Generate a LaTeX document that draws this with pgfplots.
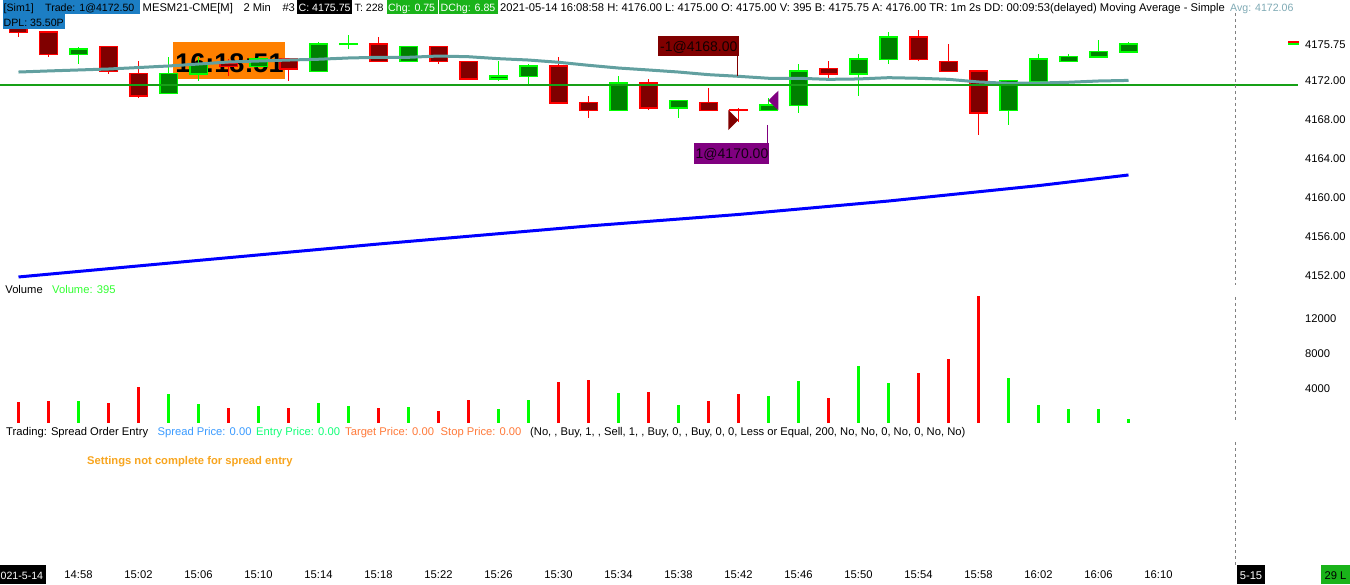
\documentclass[border=0pt]{standalone}
\usepackage{pgfplots}
\pgfplotsset{compat=1.18}
\usepackage{pgfplotstable}
\usepackage{fontspec}
\setmainfont{Liberation Sans}
\definecolor{simblue}{HTML}{1C7EC4}
\definecolor{chggreen}{HTML}{1AB31A}
\definecolor{avgcol}{HTML}{7FAAB5}
\definecolor{upfill}{HTML}{008000}
\definecolor{upline}{HTML}{00FF00}
\definecolor{dnfill}{HTML}{800000}
\definecolor{dnline}{HTML}{FF0000}
\definecolor{mateal}{HTML}{62A0A0}
\definecolor{orangebox}{HTML}{FF8000}
\definecolor{purp}{HTML}{800080}
\definecolor{spreadblue}{HTML}{3A9BFF}
\definecolor{entrygreen}{HTML}{11FF77}
\definecolor{coral}{HTML}{FF7A3A}
\definecolor{settings}{HTML}{F8A51E}
\definecolor{vollime}{HTML}{33FF33}
\definecolor{lastgreen}{HTML}{16A016}

\pgfplotstableread{
m o h l c
54 4178.0 4178.25 4176.5 4177.0
56 4177.0 4177.0 4174.5 4174.75
60 4175.5 4175.5 4172.75 4173.0
62 4172.75 4174.0 4170.25 4170.5
68 4173.75 4174.25 4172.5 4173.5
72 4174.25 4174.25 4172.0 4173.25
78 4175.75 4176.5 4174.0 4174.0
82 4175.5 4175.5 4173.75 4174.0
84 4174.0 4174.0 4172.25 4172.25
90 4173.5 4174.5 4169.75 4169.75
92 4169.75 4170.5 4168.25 4169.0
96 4171.75 4172.25 4169.0 4169.25
100 4169.75 4171.25 4169.0 4169.0
102 4169.0 4169.25 4167.75 4169.0
108 4173.25 4174.0 4172.25 4172.75
114 4176.5 4177.25 4174.0 4174.25
116 4174.0 4175.75 4173.0 4173.0
118 4173.0 4173.0 4166.5 4168.75
}\downT

\pgfplotstableread{
m o h l c
58 4174.75 4175.5 4173.75 4175.25
64 4170.75 4174.5 4170.75 4172.75
66 4172.75 4174.5 4172.0 4173.75
70 4173.5 4174.5 4173.5 4174.25
74 4173.0 4176.0 4173.0 4175.75
76 4175.75 4176.75 4175.25 4175.75
80 4174.0 4175.5 4174.0 4175.5
86 4172.25 4174.0 4172.0 4172.5
88 4172.5 4173.75 4171.5 4173.5
94 4169.0 4172.5 4169.0 4171.75
98 4169.25 4170.0 4168.25 4170.0
104 4169.0 4170.25 4169.0 4169.5
106 4169.5 4173.75 4168.75 4173.0
110 4172.75 4174.75 4170.5 4174.25
112 4174.25 4177.0 4173.75 4176.5
120 4169.0 4172.0 4167.5 4172.0
122 4172.0 4174.75 4172.0 4174.25
124 4174.0 4174.75 4174.0 4174.5
126 4174.5 4176.25 4174.5 4175.0
128 4175.0 4176.0 4175.0 4175.75
}\upT

\pgfplotstableread{
m v
54 2430
56 2550
60 2320
62 4170
68 1740
72 1740
78 1740
82 1390
84 2670
90 4750
92 4980
96 3590
100 2550
102 3360
108 2900
114 5800
116 7420
118 14600
}\volDown

\pgfplotstableread{
m v
58 2550
64 3360
66 2200
70 1970
74 2320
76 1970
80 1850
86 1620
88 2670
94 3480
98 2090
104 3130
106 4870
110 6610
112 4640
120 5220
122 2090
124 1620
126 1620
128 395
}\volUp

\pgfplotstableread{
m a
54 4172.92
56 4173.03
58 4173.13
60 4173.23
62 4173.38
64 4173.54
66 4173.74
68 4173.95
70 4174.05
72 4174.15
74 4174.23
76 4174.36
78 4174.43
80 4174.43
82 4174.56
84 4174.49
86 4174.29
88 4174.15
90 4173.92
92 4173.61
94 4173.33
96 4173.13
98 4172.92
100 4172.65
102 4172.48
104 4172.28
106 4172.28
108 4172.17
110 4172.21
112 4172.34
114 4172.28
116 4172.17
118 4171.90
120 4171.76
122 4171.79
124 4171.87
126 4172.00
128 4172.06
}\maT

\pgfplotstableread{
m a
54 4151.90
66 4153.60
78 4155.28
92 4157.13
102 4158.31
112 4159.69
122 4161.27
128 4162.36
}\blueT

\pgfplotstableread{
m a
52.7667 4171.56
139.3 4171.56
}\lastT

\newcommand{\fs}{\fontsize{11.2}{13}\selectfont}
\newcommand{\fsb}{\fontsize{10.6}{13}\selectfont}
\pgfplotsset{candle/.style 2 args={forget plot,draw=none,mark=none,
  error bars/.cd,y dir=plus,y explicit,error mark=none,
  error bar style={line width=#1,color=#2,solid}}}

\begin{document}
\begin{tikzpicture}[x=1pt,y=1pt,font=\fs]
\fill[white] (0,0) rectangle (1350,584);
\useasboundingbox (0,0) rectangle (1350,584);
% clock box
\fill[orangebox] (173,505) rectangle (285,542);
\node[anchor=base,inner sep=0pt,font=\fontsize{27}{30}\selectfont\bfseries] at (229.5,511) {16:18:51};

\begin{axis}[at={(0,0)},anchor=south west,width=1350pt,height=584pt,scale only axis,
  xmin=52.7667,xmax=142.7667,ymin=4120.4103,ymax=4180.3077,
  axis line style={draw=none},tick style={draw=none},clip=false,
  ytick={4152,4156,4160,4164,4168,4172,4175.75},
  yticklabels={4152.00,4156.00,4160.00,4164.00,4168.00,4172.00,4175.75},
  yticklabel pos=right,
  yticklabel style={anchor=west,xshift=-45pt,inner sep=0pt},
  xtick={58,62,...,130},
  xticklabels={14:58,15:02,15:06,15:10,15:14,15:18,15:22,15:26,15:30,15:34,15:38,15:42,15:46,15:50,15:54,15:58,16:02,16:06,16:10},
  xticklabel style={anchor=center,yshift=9pt,inner sep=0pt},
  tick label style={font=\fs}]
% long MA
\addplot[color=blue,line width=3pt,mark=none] table[x=m,y=a] {\blueT};
% wicks
\addplot[candle={1.3pt}{dnline}] table[x=m,y=l,y error plus expr=\thisrow{h}-\thisrow{l}] {\downT};
\addplot[candle={1.3pt}{upline}] table[x=m,y=l,y error plus expr=\thisrow{h}-\thisrow{l}] {\upT};
% bodies outer
\addplot[candle={19pt}{dnline}] table[x=m,y expr=\thisrow{c}-0.1,y error plus expr=\thisrow{o}-\thisrow{c}+0.2] {\downT};
\addplot[candle={19pt}{upline}] table[x=m,y expr=\thisrow{o}-0.1,y error plus expr=\thisrow{c}-\thisrow{o}+0.2] {\upT};
% bodies inner
\addplot[candle={16pt}{dnfill}] table[x=m,y expr=\thisrow{c}+0.05,y error plus expr={max(\thisrow{o}-\thisrow{c}-0.1,0)}] {\downT};
\addplot[candle={16pt}{upfill}] table[x=m,y expr=\thisrow{o}+0.05,y error plus expr={max(\thisrow{c}-\thisrow{o}-0.1,0)}] {\upT};
% short MA
\addplot[color=mateal,line width=3pt,mark=none] table[x=m,y=a] {\maT};
% horizontal last-price line
\addplot[draw=lastgreen,line width=1.6pt,mark=none] table[x=m,y=a] {\lastT};
% execution markers
\addplot[fill=dnfill,draw=none,mark=none] coordinates {(101.32,4169.03) (101.32,4166.97) (101.987,4168.0)} -- cycle;
\addplot[fill=purp,draw=none,mark=none] coordinates {(103.987,4170.0) (104.653,4171.0) (104.653,4169.0)} -- cycle;
\draw[dnfill,line width=1pt] (axis cs:101.95,4174.56) -- (axis cs:101.95,4172.51);
\draw[purp,line width=1pt] (axis cs:103.93,4167.49) -- (axis cs:103.93,4165.64);
\end{axis}

\begin{axis}[at={(0,0)},anchor=south west,width=1350pt,height=584pt,scale only axis,
  xmin=52.7667,xmax=142.7667,ymin=-18642,ymax=48873,
  axis line style={draw=none},tick style={draw=none},clip=false,
  xtick=\empty,scaled y ticks=false,
  ytick={4000,8000,12000},yticklabels={4000,8000,12000},
  yticklabel pos=right,
  yticklabel style={anchor=west,xshift=-45pt,inner sep=0pt},
  tick label style={font=\fs}]
\addplot[ycomb,color=dnline,line width=2.4pt,mark=none] table[x=m,y=v] {\volDown};
\addplot[ycomb,color=upline,line width=2.4pt,mark=none] table[x=m,y=v] {\volUp};
\end{axis}

% annotation boxes
\fill[dnfill] (658,528) rectangle (739,548);
\node[anchor=base west,inner sep=0pt,font=\fontsize{14}{16}\selectfont,text=black!85!dnfill] at (660,532.3) {-1@4168.00};
\fill[purp] (694,420) rectangle (769,441);
\node[anchor=base west,inner sep=0pt,font=\fontsize{14}{16}\selectfont,text=black!85!purp] at (695.5,425.5) {1@4170.00};

% header
\fill[simblue] (2.7,569.7) rectangle (140,584);
\fill[simblue] (2.7,554.7) rectangle (65,569.7);
\node[anchor=base west,inner sep=0pt,font=\fsb] at (3.5,572.3) {[Sim1]};
\node[anchor=base west,inner sep=0pt,font=\fsb] at (45,572.3) {Trade: 1@4172.50};
\node[anchor=base west,inner sep=0pt,font=\fsb] at (3.5,557.3) {DPL: 35.50P};
\node[anchor=base west,inner sep=0pt] at (142.5,572.3) {MESM21-CME[M]};
\node[anchor=base west,inner sep=0pt] at (243.3,572.3) {2 Min};
\node[anchor=base west,inner sep=0pt] at (282.3,572.3) {\#3};
\fill[black] (297,569.7) rectangle (352,584);
\node[anchor=base west,inner sep=0pt,text=white,font=\fsb] at (298.5,572.3) {C: 4175.75};
\node[anchor=base west,inner sep=0pt,font=\fsb] at (354.5,572.3) {T: 228};
\fill[chggreen] (386.7,569.7) rectangle (437.7,584);
\node[anchor=base west,inner sep=0pt,text=white,font=\fsb] at (388,572.3) {Chg: 0.75};
\fill[chggreen] (439.3,569.7) rectangle (497.7,584);
\node[anchor=base west,inner sep=0pt,text=white,font=\fsb] at (440.5,572.3) {DChg: 6.85};
\node[anchor=base west,inner sep=0pt] at (500,572.3) {2021-05-14 16:08:58 H: 4176.00 L: 4175.00 O: 4175.00 V: 395 B: 4175.75 A: 4176.00 TR: 1m 2s DD: 00:09:53(delayed) Moving Average - Simple};
\node[anchor=base west,inner sep=0pt,text=avgcol,font=\fsb] at (1230,572.3) {Avg: 4172.06};

% price marker
\fill[dnline] (1288,541.3) rectangle (1299,543.3);
\fill[upline] (1288,539.3) rectangle (1299,541.3);

% dashed divider
\draw[gray,line width=1pt,dash pattern=on 3pt off 3pt] (1235,571) -- (1235,299);
\draw[gray,line width=1pt,dash pattern=on 3pt off 3pt] (1235,287) -- (1235,164);
\draw[gray,line width=1pt,dash pattern=on 3pt off 3pt] (1235,142) -- (1235,19);

% volume panel labels
\node[anchor=base west,inner sep=0pt] at (5.2,290) {Volume};
\node[anchor=base west,inner sep=0pt,text=vollime] at (52,290) {Volume: 395};

% trading row
\node[anchor=base west,inner sep=0pt] at (6,148.7) {Trading: Spread Order Entry};
\node[anchor=base west,inner sep=0pt,text=spreadblue] at (157.5,148.7) {Spread Price: 0.00};
\node[anchor=base west,inner sep=0pt,text=entrygreen] at (256,148.7) {Entry Price: 0.00};
\node[anchor=base west,inner sep=0pt,text=coral] at (345,148.7) {Target Price: 0.00};
\node[anchor=base west,inner sep=0pt,text=coral] at (440.5,148.7) {Stop Price: 0.00};
\node[anchor=base west,inner sep=0pt] at (530,148.7) {(No, , Buy, 1, , Sell, 1, , Buy, 0, , Buy, 0, 0, Less or Equal, 200, No, No, 0, No, 0, No, No)};
\node[anchor=base west,inner sep=0pt,text=settings,font=\fs\bfseries] at (87,119) {Settings not complete for spread entry};

% bottom boxes
\fill[black] (0,0) rectangle (46,19);
\node[anchor=base west,inner sep=0pt,text=white,font=\fsb] at (0.5,5) {021-5-14};
\fill[black] (1237,0) rectangle (1265,19);
\node[anchor=base,inner sep=0pt,text=white] at (1251,5) {5-15};
\fill[chggreen] (1321,0) rectangle (1350,19);
\node[anchor=base,inner sep=0pt] at (1335.5,5) {29 L};
\end{tikzpicture}
\end{document}
